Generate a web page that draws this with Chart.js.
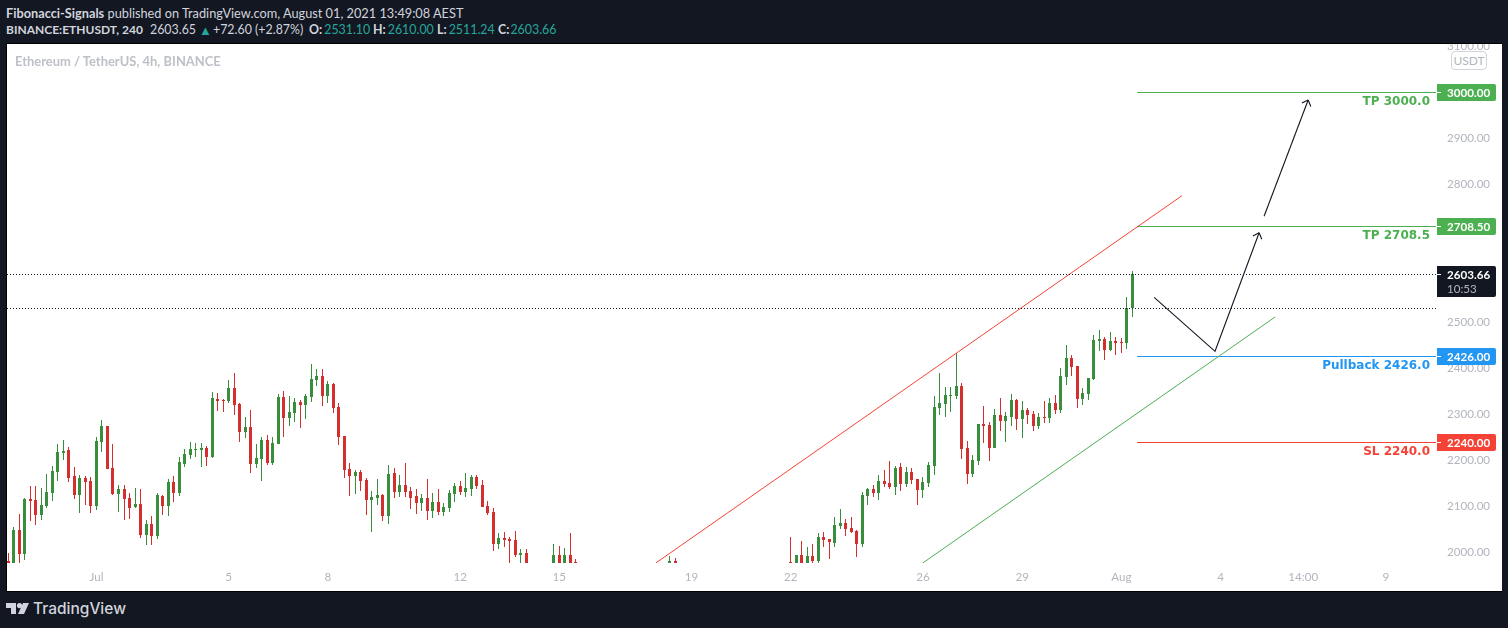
<!DOCTYPE html>
<html>
<head>
<meta charset="utf-8">
<title>ETHUSDT</title>
<script src="https://cdn.jsdelivr.net/npm/chart.js@4/dist/chart.umd.js"></script>
<style>
html,body{margin:0;padding:0;background:#131722;width:1508px;height:628px;overflow:hidden}
.t{position:absolute;white-space:nowrap;font-family:Lato,sans-serif;font-size:12.75px;line-height:16px;color:#d1d4dc}
.t b{font-weight:700}
.teal{color:#26a69a}
#pane{position:absolute;left:6px;top:43px;width:1495px;height:547px;border:1px solid #000;border-right:0;background:#fff;box-sizing:content-box}
#wrap{position:absolute;left:7px;top:44px;width:1494px;height:546px;background:#fff}
canvas{display:block}
</style>
</head>
<body>
<div class="t" style="left:6px;top:5px"><b>Fibonacci-Signals</b> published on TradingView.com, August 01, 2021 13:49:08 AEST</div>
<div class="t" style="left:6px;top:22px;font-size:12px"><b>BINANCE:ETHUSDT, 240</b></div>
<div class="t" style="left:150px;top:22px;font-size:12.4px">2603.65</div>
<div class="t teal" style="left:199px;top:22px;font-size:13px">▲</div>
<div class="t" style="left:213px;top:22px;font-size:12.4px">+72.60 (+2.87%)</div>
<div class="t" style="left:309px;top:22px;font-size:12.4px"><b>O:</b><span class="teal" style="margin-left:2px">2531.10</span></div>
<div class="t" style="left:373px;top:22px;font-size:12.4px"><b>H:</b><span class="teal" style="margin-left:2px">2610.00</span></div>
<div class="t" style="left:437px;top:22px;font-size:12.4px"><b>L:</b><span class="teal" style="margin-left:2px">2511.24</span></div>
<div class="t" style="left:498px;top:22px;font-size:12.4px"><b>C:</b><span class="teal" style="margin-left:1px">2603.66</span></div>
<div id="pane"></div>
<div id="wrap"><canvas id="c" width="1494" height="546"></canvas></div>
<div class="t" style="left:15px;top:53px;font-size:12.95px;color:#b2b5be;font-weight:700;opacity:.85">Ethereum / TetherUS, 4h, BINANCE</div>
<div class="t" style="left:1451px;top:51px;width:34px;height:17px;line-height:17px;border:1px solid #d1d4dc;border-radius:4px;text-align:center;color:#b2b5be;font-size:12px;background:#fff">USDT</div>
<svg style="position:absolute;left:6px;top:603px" width="23" height="12" viewBox="0 0 23 12">
<path fill="#d1d4dc" d="M0 0H10V11H5V5H0Z"/><circle fill="#d1d4dc" cx="13.5" cy="2.6" r="2.6"/><path fill="#d1d4dc" d="M17 0H23L18 11H12Z"/>
</svg>
<div class="t" style="left:33px;top:599px;font-family:Inter,sans-serif;font-weight:500;font-size:15.5px;line-height:20px;color:#d1d4dc">TradingView</div>
<script>
// candle values (USDT), one entry per 4h candle, null where the candle lies wholly below the visible range
const opens=[1980,1970,2048,1996,2115,2113,2080,2100,2128,2174,2215,2222,2165,2124,2161,2154,2100,2239,2274,2183,2126,2137,2117,2098,2104,2037,2061,2035,2122,2100,2152,2128,2191,2211,2222,2222,2226,2207,2333,2330,2328,2357,2322,2261,2272,2191,2202,2243,2193,2235,2337,2291,2302,2326,2320,2337,2374,2383,2339,2365,2315,2252,2180,2165,2174,2156,2113,2117,2124,2078,2172,2130,2146,2133,2122,2106,2117,2089,2109,2087,2096,2126,2143,2130,2137,2163,2146,2100,2087,2017,2030,2028,2026,1994,1998,null,null,null,null,1970,1994,1970,1994,1978,null,null,null,null,null,null,null,null,null,null,null,null,null,null,null,null,1970,1980,null,null,null,null,null,null,null,null,null,null,null,null,null,null,null,null,null,null,null,null,1970,1970,1994,1970,1991,1980,2033,2028,2020,2056,2063,2052,2046,2017,2122,2137,2128,2154,2150,2141,2185,2148,2174,2159,2135,2150,2187,2313,2322,2339,2339,2361,2226,2170,2198,2278,2276,2226,2298,2285,2294,2330,2289,2309,2300,2274,2293,2291,2324,2309,2380,2422,2404,2333,2343,2376,2459,2463,2439,2459,2456,2454,2531];
const highs=[1998,2054,2083,2117,2143,2143,2139,2170,2187,2235,2243,2228,2185,2167,2165,2163,2249,2287,2274,2235,2146,2146,2128,2139,2137,2070,2078,2128,2124,2159,2165,2207,2224,2239,2237,2237,2230,2348,2346,2333,2374,2389,2324,2293,2309,2235,2250,2254,2250,2343,2350,2339,2335,2330,2343,2409,2398,2398,2372,2367,2324,2252,2193,2178,2178,2161,2133,2159,2126,2189,2183,2167,2193,2141,2137,2126,2159,2128,2137,2106,2135,2150,2154,2172,2167,2167,2156,2111,2096,2041,2044,2033,2046,2007,2007,null,null,null,null,2017,2013,2009,2041,1985,null,null,null,null,null,null,null,null,null,null,null,null,null,null,null,null,1991,1987,null,null,null,null,null,null,null,null,null,null,null,null,null,null,null,null,null,null,null,null,2033,1994,2024,2011,2017,2041,2043,2028,2076,2093,2072,2076,2048,2130,2139,2146,2167,2178,2198,2187,2193,2185,2183,2159,2163,2196,2339,2389,2359,2359,2433,2367,2241,2211,2278,2317,2283,2311,2335,2304,2343,2333,2328,2313,2307,2302,2328,2335,2341,2400,2450,2428,2404,2357,2378,2472,2483,2467,2478,2467,2465,2554,2610];
const lows=[1966,1965,1975,1983,2067,2059,2070,2096,2111,2154,2200,2152,2115,2085,2102,2085,2091,2217,2180,2124,2087,2070,2072,2096,2030,2015,2015,2028,2080,2078,2109,2122,2185,2202,2207,2185,2187,2204,2307,2304,2324,2298,2239,2248,2172,2183,2154,2189,2189,2235,2250,2274,2283,2270,2289,2326,2361,2317,2324,2302,2233,2161,2122,2126,2133,2080,2044,2102,2067,2061,2117,2120,2120,2093,2083,2089,2070,2074,2080,2078,2087,2109,2124,2120,2122,2137,2098,2080,2002,2007,2011,1975,1989,1975,1965,null,null,null,null,1965,1965,1965,1965,1965,null,null,null,null,null,null,null,null,null,null,null,null,null,null,null,null,1965,1965,null,null,null,null,null,null,null,null,null,null,null,null,null,null,null,null,null,null,null,null,1965,1965,1965,1965,1975,1975,2011,1985,2011,2050,2035,2041,1989,2011,2102,2120,2113,2141,2137,2124,2133,2141,2148,2102,2117,2141,2167,2298,2294,2304,2333,2202,2148,2163,2189,2237,2198,2226,2263,2239,2274,2265,2248,2278,2263,2267,2280,2280,2300,2302,2363,2383,2313,2320,2330,2374,2437,2417,2437,2428,2433,2441,2511];
const closes=[1970,2048,1996,2115,2111,2080,2102,2130,2176,2217,2220,2161,2124,2161,2152,2100,2241,2274,2180,2126,2137,2115,2096,2104,2037,2061,2035,2124,2100,2152,2128,2196,2213,2224,2224,2226,2207,2335,2328,2328,2357,2320,2261,2272,2191,2204,2243,2193,2237,2337,2291,2304,2326,2320,2339,2376,2383,2339,2365,2313,2250,2178,2165,2174,2154,2113,2120,2124,2078,2170,2130,2146,2130,2117,2106,2117,2089,2109,2087,2098,2128,2143,2130,2139,2163,2143,2098,2085,2017,2030,2026,2024,1994,1998,1970,null,null,null,null,1994,1970,1994,1970,1970,null,null,null,null,null,null,null,null,null,null,null,null,null,null,null,null,1980,1970,null,null,null,null,null,null,null,null,null,null,null,null,null,null,null,null,null,null,null,null,1968,1993,1970,1991,1980,2033,2026,2022,2059,2063,2050,2043,2017,2124,2137,2128,2154,2148,2141,2183,2148,2174,2156,2135,2152,2189,2315,2324,2341,2341,2361,2224,2170,2200,2278,2274,2226,2298,2285,2296,2330,2289,2309,2298,2274,2293,2291,2324,2309,2383,2422,2402,2333,2346,2378,2461,2463,2439,2459,2454,2454,2530,2604];

// axis labels and ticks
const priceTicks=[2000,2100,2200,2300,2400,2500,2600,2700,2800,2900,3000,3100];
const timeTickPositions=[16,40,58,82,100,124,142,166,184,202,220,235,250];
const timeTickLabels=['Jul','5','8','12','15','19','22','26','29','Aug','4','14:00','9'];

// horizontal trade levels
const levelPrices=[3000,2708.5,2426,2240];
const levelNames=['TP 3000.0','TP 2708.5','Pullback 2426.0','SL 2240.0'];
const levelTags=['3000.00','2708.50','2426.00','2240.00'];
const levelColors=['#4caf50','#4caf50','#2196f3','#f44336'];
const levelStart=204.85;

// current close and bar open dotted lines
const lastClose=2603.66, lastOpen=2531.10, countdown='10:53';

// trend channel and projected path, [candle index, price]
const redChannel=[[117.5,1976],[213,2774.6]];
const greenChannel=[[165.95,1976],[229.9,2510.9]];
const pathFirst=[[207.95,2553.7],[219,2436.3],[227,2694]];
const pathSecond=[[227.9,2729.8],[235.9,2982.6]];

const X_MIN=-0.236, X_MAX=259.1, Y_MIN=1976.09, Y_MAX=3104.35;
const UP='#388e3c', DOWN='#d32f2f';
const AXIS_FONT='Lato, sans-serif';
const AXIS_SIZE=11.6;

const idx=[...opens.keys()].filter(i=>opens[i]!==null);
const colorOf=i=>closes[i]>=opens[i]?UP:DOWN;
const pts=a=>a.map(p=>({x:p[0],y:p[1]}));
const lineDs=(data,color,extra)=>Object.assign({type:'line',data:pts(data),borderColor:color,borderWidth:1,pointRadius:0,fill:false,tension:0,order:0},extra||{});

const datasets=[
  {type:'bar',data:idx.map(i=>({x:i,y:[lows[i],highs[i]]})),backgroundColor:idx.map(colorOf),barThickness:1,grouped:false,inflateAmount:0,order:4},
  {type:'bar',data:idx.map(i=>({x:i,y:[opens[i],closes[i]]})),backgroundColor:idx.map(colorOf),barThickness:3,grouped:false,inflateAmount:0,minBarLength:1,order:3},
  lineDs([[X_MIN,lastClose],[X_MAX,lastClose]],'#131722',{borderDash:[1,2],crisp:true}),
  lineDs([[X_MIN,lastOpen],[X_MAX,lastOpen]],'#131722',{borderDash:[1,2],crisp:true}),
  lineDs(redChannel,'#f44336'),
  lineDs(greenChannel,'#4caf50'),
  lineDs(pathFirst,'#131722',{borderWidth:1.1}),
  lineDs(pathSecond,'#131722',{borderWidth:1.1})
];
levelPrices.forEach((p,i)=>datasets.push(lineDs([[levelStart,p],[X_MAX,p]],levelColors[i],{crisp:true})));

const snapMarks={
  id:'snapMarks',
  afterDatasetsUpdate(chart){
    [0,1].forEach(d=>{
      chart.getDatasetMeta(d).data.forEach(el=>{
        el.x=Math.floor(el.x)+0.5;
        el.y=Math.round(el.y);
        el.base=Math.round(el.base);
        el.height=el.base-el.y;
      });
    });
    chart.data.datasets.forEach((ds,d)=>{
      if(ds.crisp) chart.getDatasetMeta(d).data.forEach(el=>{el.y=Math.round(el.y)+0.5;});
    });
  }
};

const overlay={
  id:'overlay',
  afterDraw(chart){
    const ctx=chart.ctx, xs=chart.scales.x, ys=chart.scales.y, right=chart.chartArea.right;
    ctx.save();
    // arrow heads
    ctx.strokeStyle='#131722'; ctx.lineWidth=1.1;
    [pathFirst,pathSecond].forEach(path=>{
      const a=path[path.length-2], b=path[path.length-1];
      const x1=xs.getPixelForValue(a[0]), y1=ys.getPixelForValue(a[1]);
      const x2=xs.getPixelForValue(b[0]), y2=ys.getPixelForValue(b[1]);
      const ang=Math.atan2(y2-y1,x2-x1);
      ctx.beginPath();
      [-0.75,0.75].forEach(d=>{
        ctx.moveTo(x2,y2);
        ctx.lineTo(x2-7*Math.cos(ang+d),y2-7*Math.sin(ang+d));
      });
      ctx.stroke();
    });
    // level captions and price tags
    ctx.textBaseline='middle';
    levelPrices.forEach((p,i)=>{
      const y=Math.round(ys.getPixelForValue(p));
      ctx.font='bold 12px "DejaVu Sans", sans-serif';
      ctx.fillStyle=levelColors[i];
      ctx.textAlign='right';
      ctx.fillText(levelNames[i],right-6,y+10);
      ctx.beginPath(); ctx.roundRect(right+1,y-8,59,17,[0,2,2,0]); ctx.fill();
      ctx.fillStyle='#fff'; ctx.fillRect(right+1,y,4,1);
      ctx.textAlign='left';
      ctx.font='bold '+AXIS_SIZE+'px '+AXIS_FONT;
      ctx.fillText(levelTags[i],right+11,y+1);
    });
    // current price tag
    const y=Math.round(ys.getPixelForValue(lastClose));
    ctx.fillStyle='#131722';
    ctx.beginPath(); ctx.roundRect(right+1,y-8,59,31,[0,2,2,0]); ctx.fill();
    ctx.fillStyle='#fff'; ctx.fillRect(right+1,y,4,1);
    ctx.textAlign='left'; ctx.font='bold '+AXIS_SIZE+'px '+AXIS_FONT;
    ctx.fillText(lastClose.toFixed(2),right+11,y+1);
    ctx.fillStyle='#b2b5be';
    ctx.font=AXIS_SIZE+'px '+AXIS_FONT;
    ctx.fillText(countdown,right+11,y+15);
    ctx.restore();
  }
};

new Chart(document.getElementById('c'),{
  data:{datasets},
  plugins:[snapMarks,overlay],
  options:{
    responsive:false,animation:false,devicePixelRatio:1,
    layout:{padding:0},
    events:[],
    plugins:{legend:{display:false},tooltip:{enabled:false},title:{display:false}},
    scales:{
      x:{type:'linear',min:X_MIN,max:X_MAX,offset:false,
        grid:{display:false,drawTicks:false},border:{display:false},
        afterBuildTicks(s){s.ticks=timeTickPositions.map(v=>({value:v}));},
        afterFit(s){s.height=27;s.paddingLeft=0;s.paddingRight=0;s.paddingTop=0;s.paddingBottom=0;},
        ticks:{autoSkip:false,maxRotation:0,padding:7,color:'#b2b5be',font:{family:AXIS_FONT,size:AXIS_SIZE},
          callback(v){const i=timeTickPositions.indexOf(v);return i<0?'':timeTickLabels[i];}}
      },
      y:{type:'linear',position:'right',min:Y_MIN,max:Y_MAX,
        grid:{display:false,drawTicks:false},border:{display:false},
        afterBuildTicks(s){s.ticks=priceTicks.map(v=>({value:v}));},
        afterFit(s){s.width=65;s.paddingLeft=0;s.paddingRight=0;s.paddingTop=0;s.paddingBottom=0;},
        ticks:{autoSkip:false,padding:11,crossAlign:'near',color:'#b2b5be',font:{family:AXIS_FONT,size:AXIS_SIZE},
          callback(v){return Number(v).toFixed(2);}}
      }
    }
  }
});
</script>
</body>
</html>
